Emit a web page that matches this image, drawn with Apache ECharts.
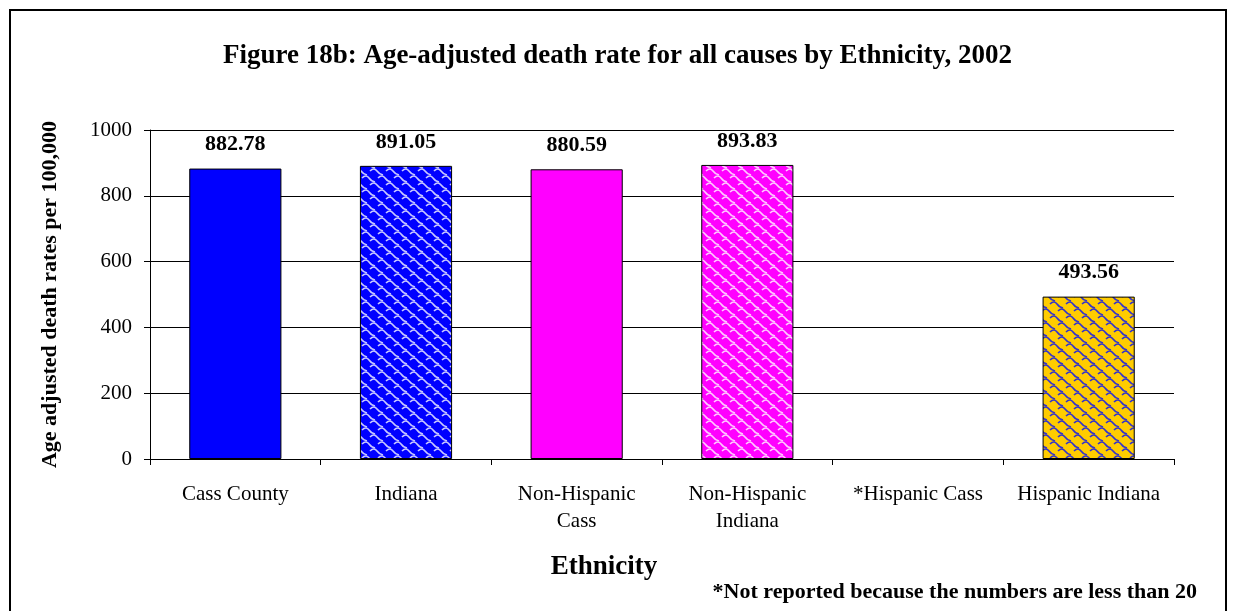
<!DOCTYPE html>
<html><head><meta charset="utf-8">
<script src="https://cdn.jsdelivr.net/npm/echarts@6/dist/echarts.min.js"></script>
<style>html,body{margin:0;padding:0;background:#fff}#c{width:1235px;height:611px}</style>
</head><body><div id="c"></div>
<script>
const categories = ['Cass County', 'Indiana', 'Non-Hispanic\nCass', 'Non-Hispanic\nIndiana', '*Hispanic Cass', 'Hispanic Indiana'];
const values = [882.78, 891.05, 880.59, 893.83, null, 493.56];
const yTicks = [0, 200, 400, 600, 800, 1000];

function makePattern(base, line) {
  const cv = document.createElement('canvas');
  cv.width = 16; cv.height = 14;
  const ctx = cv.getContext('2d');
  ctx.fillStyle = base; ctx.fillRect(0, 0, 16, 14);
  ctx.strokeStyle = line; ctx.lineWidth = 1.6;
  const scale = (x, y) => {
    ctx.beginPath();
    ctx.moveTo(x - 6, y - 3);
    ctx.quadraticCurveTo(x - 2, y - 7, x + 1, y - 3);
    ctx.quadraticCurveTo(x + 3, y, x + 7, y + 1);
    ctx.stroke();
  };
  for (let dx = -16; dx <= 16; dx += 16) for (let dy = -14; dy <= 14; dy += 14) {
    scale(8 + dx, 6 + dy);
    scale(dx, 13 + dy);
  }
  return { image: cv, repeat: 'repeat' };
}
const fills = [
  '#0000FF',
  makePattern('#0000FF', '#C8C8FF'),
  '#FF00FF',
  makePattern('#FF00FF', '#FFC8FF'),
  '#FFCC00',
  makePattern('#FFCC00', '#3333CC')
];

const font = '"Liberation Serif", "Times New Roman", serif';
const chart = echarts.init(document.getElementById('c'), null, { renderer: 'canvas' });
chart.setOption({
  animation: false,
  backgroundColor: '#fff',
  title: {
    text: 'Figure 18b: Age-adjusted death rate for all causes by Ethnicity, 2002',
    left: 'center', top: 38,
    textStyle: { fontFamily: font, fontSize: 27, fontWeight: 'bold', color: '#000' }
  },
  grid: { left: 150, right: 61, top: 130, bottom: 152 },
  xAxis: {
    type: 'category', data: categories,
    axisLine: { lineStyle: { color: '#000', width: 1 } },
    axisTick: { show: true, interval: 0, length: 6, lineStyle: { color: '#000' } },
    axisLabel: { interval: 0, fontFamily: font, fontSize: 21, color: '#000', margin: 22, lineHeight: 27 }
  },
  yAxis: {
    type: 'value', min: yTicks[0], max: yTicks[yTicks.length - 1], interval: 200,
    name: 'Age adjusted death rates per 100,000', nameLocation: 'middle', nameGap: 89,
    nameTextStyle: { fontFamily: font, fontSize: 22, fontWeight: 'bold', color: '#000' },
    axisLine: { show: true, lineStyle: { color: '#000' } },
    axisTick: { show: true, length: 6, inside: false, lineStyle: { color: '#000' } },
    axisLabel: { fontFamily: font, fontSize: 21, color: '#000', margin: 18, formatter: v => String(v) },
    splitLine: { lineStyle: { color: '#000', width: 1 } }
  },
  series: [{
    type: 'bar', barWidth: '54%',
    data: values.map((v, i) => ({ value: v, itemStyle: { color: fills[i] } })),
    itemStyle: { borderColor: '#000', borderWidth: 1 },
    label: {
      show: true, position: 'top', distance: 13,
      fontFamily: font, fontSize: 22, fontWeight: 'bold', color: '#000',
      formatter: p => p.value == null ? '' : p.value.toFixed(2)
    }
  }],
  graphic: [
    { type: 'rect', shape: { x: 10, y: 10, width: 1216, height: 620 }, style: { fill: null, stroke: '#000', lineWidth: 2 } },
    { type: 'text', x: 604, y: 567, style: { text: 'Ethnicity', font: 'bold 27px ' + font, fill: '#000', textAlign: 'center', textVerticalAlign: 'middle' } },
    { type: 'text', x: 1197, y: 592, style: { text: '*Not reported because the numbers are less than 20', font: 'bold 22px ' + font, fill: '#000', textAlign: 'right', textVerticalAlign: 'middle' } }
  ]
});
</script></body></html>
